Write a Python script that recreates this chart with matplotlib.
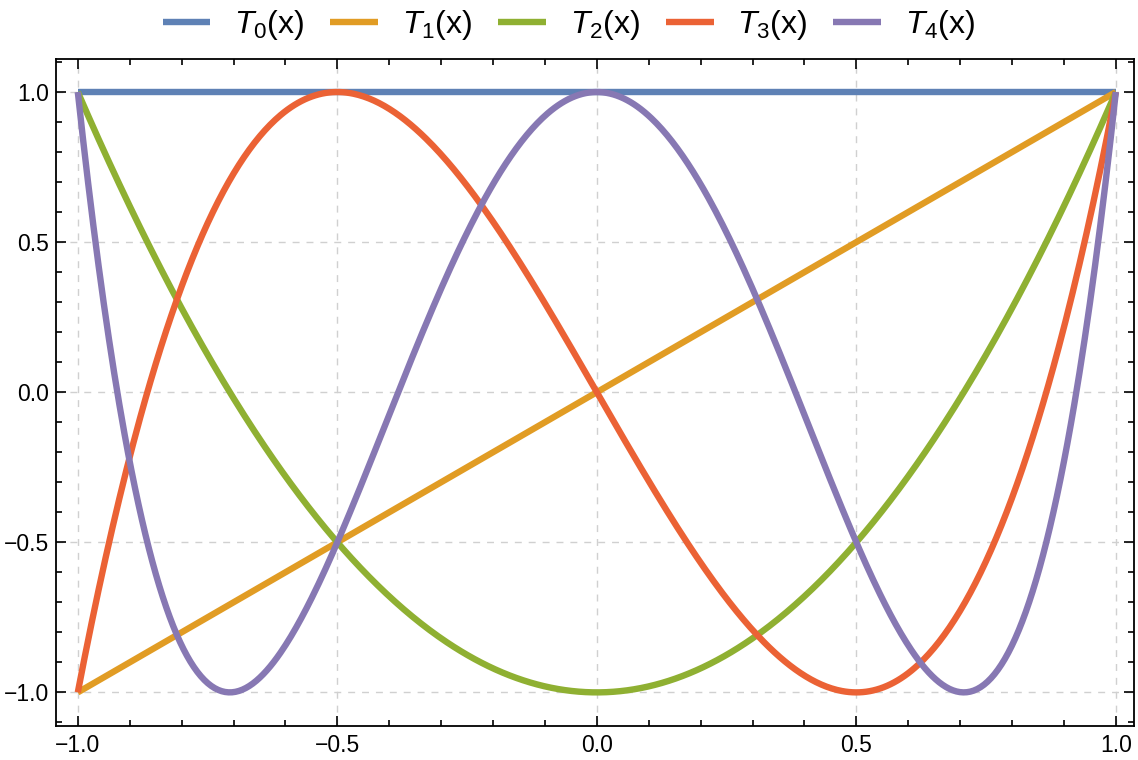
import numpy as np
import matplotlib
matplotlib.use("Agg")
import matplotlib.pyplot as plt
from matplotlib.ticker import MultipleLocator

plt.rcParams['font.family'] = ['Liberation Sans', 'DejaVu Sans']
plt.rcParams['mathtext.fontset'] = 'custom'
plt.rcParams['mathtext.rm'] = 'Liberation Sans'
plt.rcParams['mathtext.it'] = 'Liberation Sans:italic'

# Chebyshev polynomials, highest power first
labels = ["$T_0$(x)", "$T_1$(x)", "$T_2$(x)", "$T_3$(x)", "$T_4$(x)"]
coeffs = [
    [1],
    [1, 0],
    [2, 0, -1],
    [4, 0, -3, 0],
    [8, 0, -8, 0, 1],
]
colors = ["#5e81b5", "#e19c24", "#8fb032", "#eb6235", "#8778b3"]

x = np.linspace(-1, 1, 600)

fig = plt.figure(figsize=(11.38, 7.6), dpi=100)
ax = fig.add_axes([56 / 1138, 1 - 726 / 760, (1134 - 56) / 1138, (726 - 59) / 760])

for c, lab, col in zip(coeffs, labels, colors):
    ax.plot(x, np.polyval(c, x), color=col, lw=4.6, label=lab, solid_capstyle='butt')

ax.set_xlim(-1.042, 1.035)
ax.set_ylim(-1.112, 1.11)
ax.xaxis.set_major_locator(MultipleLocator(0.5))
ax.xaxis.set_minor_locator(MultipleLocator(0.1))
ax.yaxis.set_major_locator(MultipleLocator(0.5))
ax.yaxis.set_minor_locator(MultipleLocator(0.1))
ax.xaxis.set_major_formatter(lambda v, p: f"{v:.1f}".replace("-", "\u2212"))
ax.yaxis.set_major_formatter(lambda v, p: f"{v:.1f}".replace("-", "\u2212"))
ax.tick_params(which='both', direction='in', top=True, right=True, width=1.2, labelsize=16.5)
ax.tick_params(which='major', length=7, pad=6)
ax.tick_params(which='minor', length=4)
ax.tick_params(axis='y', labelright=False, pad=5)
for s in ax.spines.values():
    s.set_linewidth(1.3)
ax.grid(True, which='major', ls=(0, (5, 5)), color='#d0d0d0', lw=1)
ax.set_axisbelow(True)

fig.legend(loc='center', bbox_to_anchor=(569 / 1138, 1 - 25 / 760), ncol=5, frameon=False,
           fontsize=23, handlelength=1.5, handletextpad=0.75, columnspacing=0.8)

fig.savefig("out.png", dpi=100)
